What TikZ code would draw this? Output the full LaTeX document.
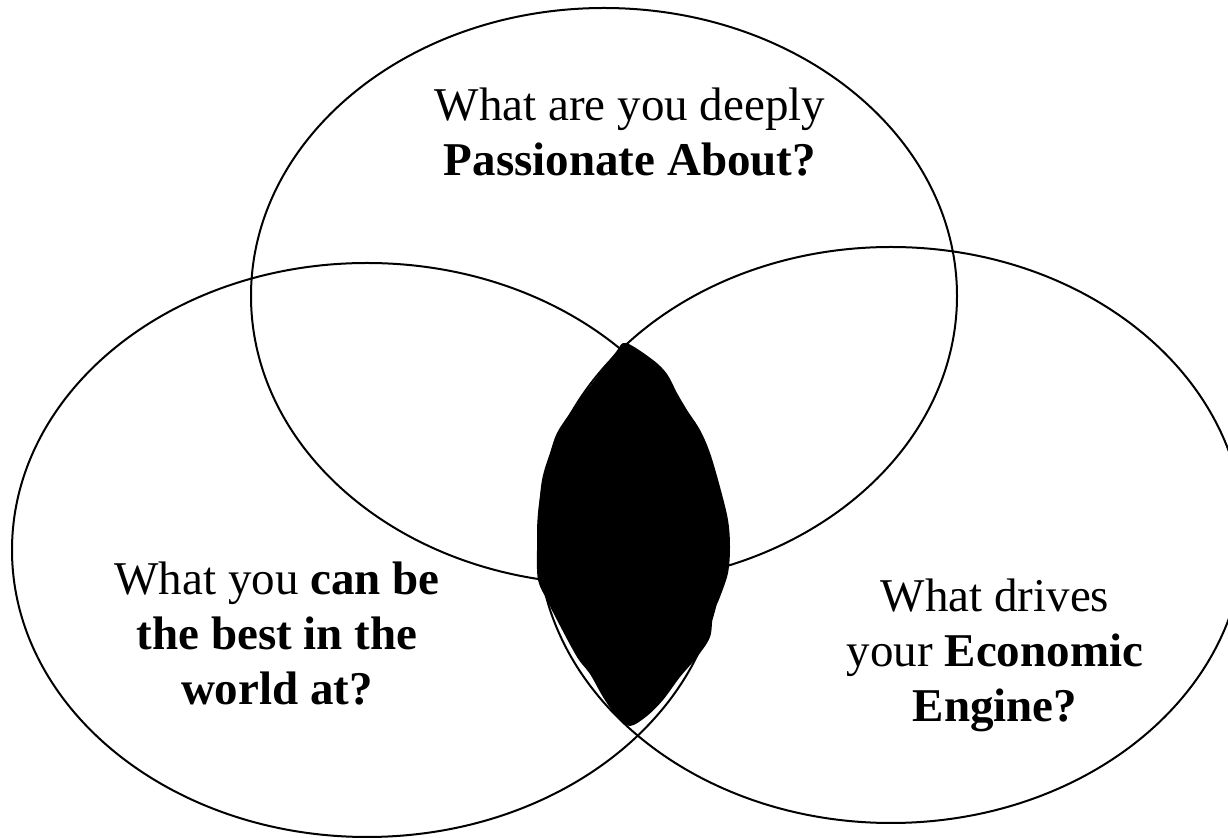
\documentclass[tikz,border=0pt]{standalone}
\usepackage{fontspec}
\setmainfont{Liberation Serif}
\begin{document}
\begin{tikzpicture}[x=0.5pt,y=-0.5pt,
  ring/.style={draw=black,line width=1pt},
  question/.style={align=center,inner sep=0pt,anchor=base,
    font=\fontsize{23.5pt}{27.5pt}\selectfont}]
\useasboundingbox (0,0) rectangle (1228,838);
% the three circles of the hedgehog concept
\draw[ring] (604,296) ellipse [x radius=353,y radius=288];
\draw[ring] (367,550) ellipse [x radius=355,y radius=287];
\draw[ring] (891,535) ellipse [x radius=353,y radius=288];
% shaded overlap, drawn by hand
\fill[black] plot[smooth cycle,tension=0.55] coordinates {
  (626,343) (653,360) (667,374) (677,393) (687,410) (700,430) (710,453)
  (720,487) (728,520) (730,547) (728,573) (720,597) (713,614) (710,637)
  (697,657) (680,677) (663,700) (647,716) (630,726)
  (617,717) (603,697) (590,674) (577,657) (557,620) (547,600) (538,580)
  (537,550) (538,520) (542,480) (550,453) (557,433) (570,413) (578,402)
  (597,377) (616,352)};
% questions (positioned on the baseline of their last line)
\node[question] (passion) at (630,176) {What are you deeply\\\textbf{Passionate About?}};
\node[question] (best) at (277,705) {What you \textbf{can be}\\\textbf{the best in the}\\\textbf{world at?}};
\node[question] (engine) at (995,722) {What drives\\your \textbf{Economic}\\\textbf{Engine?}};
\end{tikzpicture}
\end{document}
